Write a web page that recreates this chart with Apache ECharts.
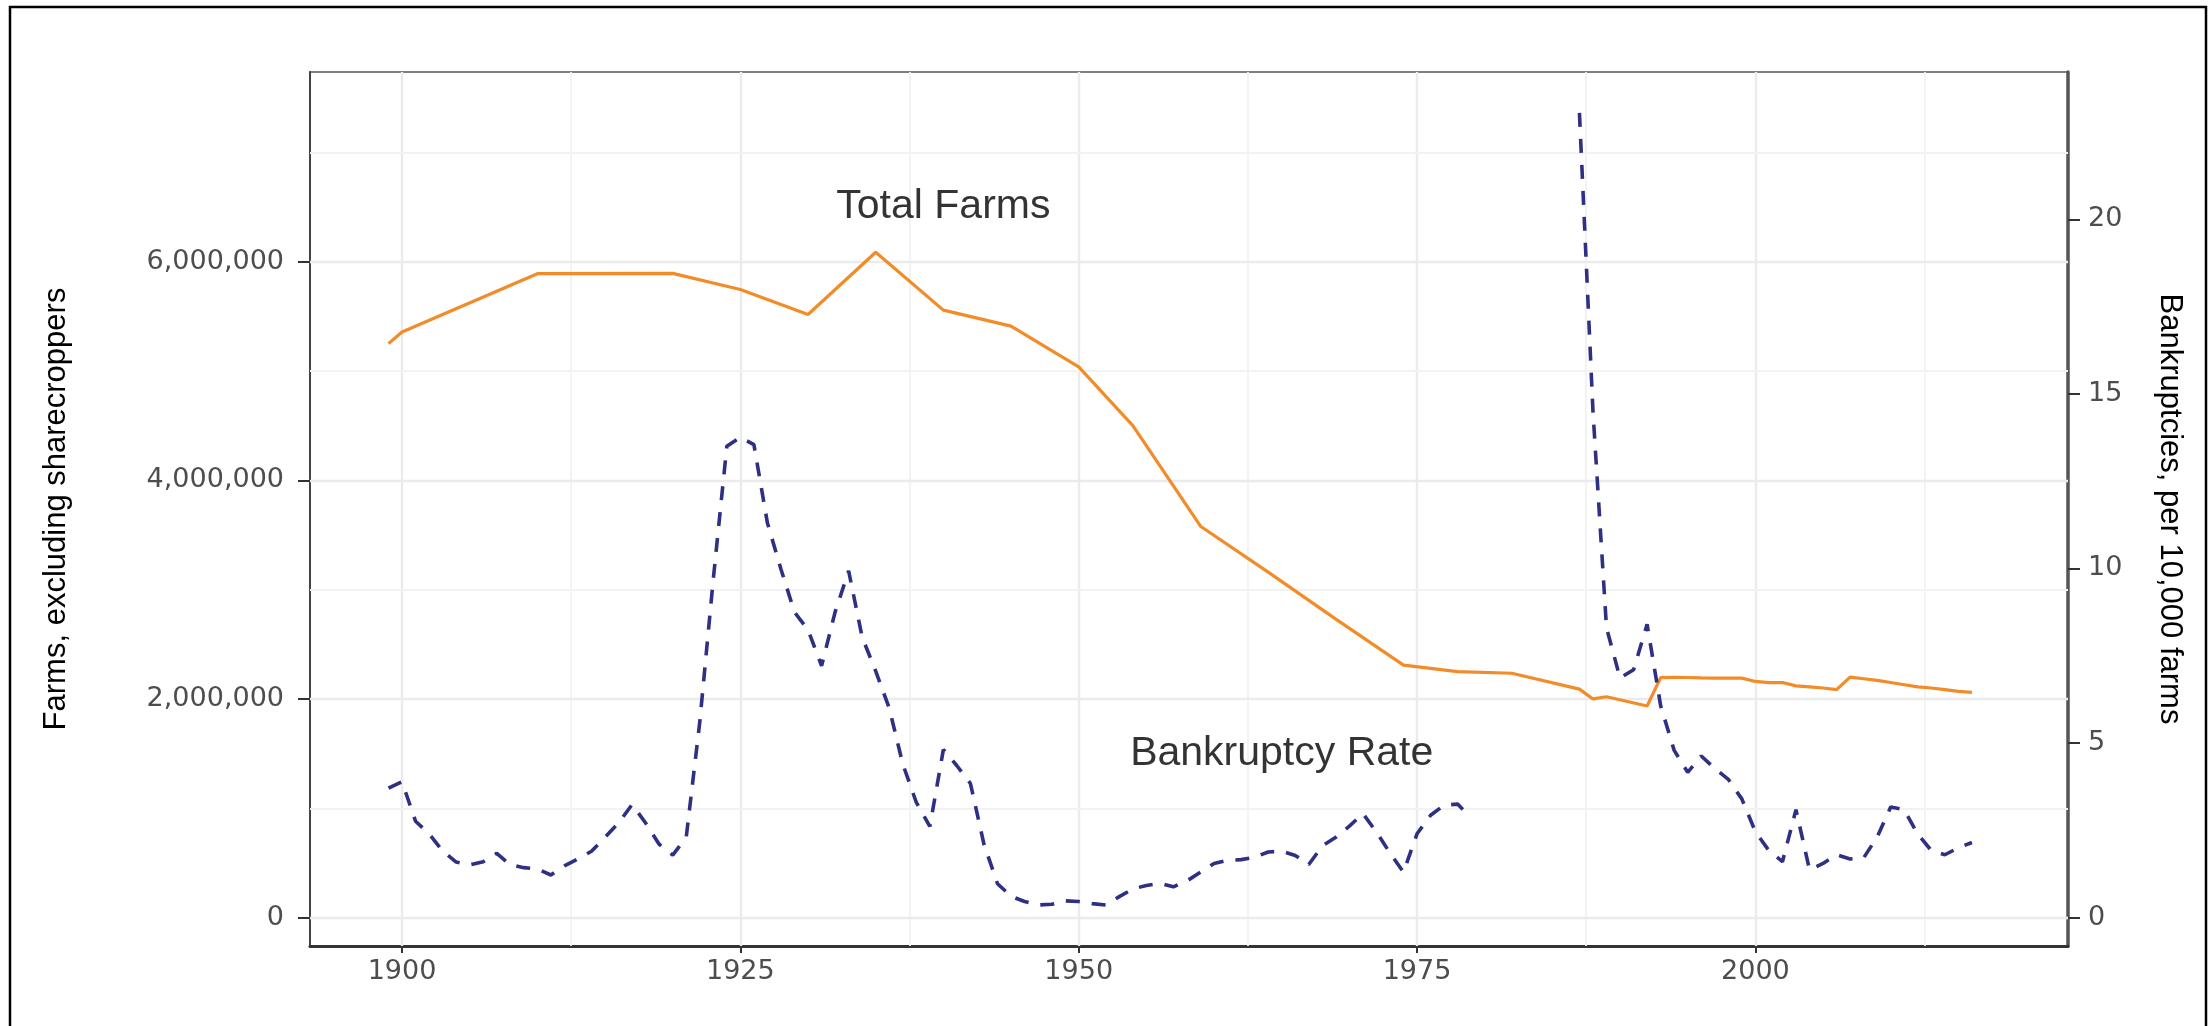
<!DOCTYPE html>
<html>
<head>
<meta charset="utf-8">
<script src="https://cdn.jsdelivr.net/npm/echarts@6/dist/echarts.min.js"></script>
<style>
  html, body { margin: 0; padding: 0; background: #fff; }
  #chart { width: 2211px; height: 1026px; }
</style>
</head>
<body>
<div id="chart"></div>
<script>
// ---- Data ----
const farmYears = [1899, 1900, 1910, 1920, 1925, 1930, 1935, 1940, 1945, 1950, 1954, 1959, 1964, 1969, 1974, 1978, 1982, 1987, 1988, 1989, 1992, 1993, 1994, 1995, 1996, 1997, 1998, 1999, 2000, 2001, 2002, 2003, 2004, 2005, 2006, 2007, 2008, 2009, 2010, 2011, 2012, 2013, 2014, 2015, 2016];
const farmValues = [5250000, 5357000, 5890000, 5893000, 5746000, 5517000, 6086000, 5557000, 5410000, 5037000, 4500000, 3580000, 3160000, 2730000, 2310000, 2250000, 2235000, 2090000, 2000000, 2020000, 1935000, 2195000, 2198000, 2196000, 2192000, 2190000, 2190000, 2190000, 2160000, 2150000, 2150000, 2120000, 2110000, 2100000, 2085000, 2200000, 2185000, 2170000, 2150000, 2130000, 2110000, 2100000, 2085000, 2070000, 2060000];

const bankYears = [1899, 1900, 1901, 1902, 1903, 1904, 1905, 1906, 1907, 1908, 1909, 1910, 1911, 1912, 1913, 1914, 1915, 1916, 1917, 1918, 1919, 1920, 1921, 1922, 1923, 1924, 1925, 1926, 1927, 1928, 1929, 1930, 1931, 1932, 1933, 1934, 1935, 1936, 1937, 1938, 1939, 1940, 1941, 1942, 1943, 1944, 1945, 1946, 1947, 1948, 1949, 1950, 1951, 1952, 1953, 1954, 1955, 1956, 1957, 1958, 1959, 1960, 1961, 1962, 1963, 1964, 1965, 1966, 1967, 1968, 1969, 1970, 1971, 1972, 1973, 1974, 1975, 1976, 1977, 1978, 1979, 1980, 1981, 1982, 1983, 1984, 1985, 1986, 1987, 1988, 1989, 1990, 1991, 1992, 1993, 1994, 1995, 1996, 1997, 1998, 1999, 2000, 2001, 2002, 2003, 2004, 2005, 2006, 2007, 2008, 2009, 2010, 2011, 2012, 2013, 2014, 2015, 2016];
const bankValues = [3.71, 3.89, 2.76, 2.40, 1.91, 1.59, 1.51, 1.60, 1.84, 1.51, 1.43, 1.39, 1.22, 1.48, 1.68, 1.90, 2.30, 2.71, 3.24, 2.71, 2.10, 1.79, 2.30, 5.60, 9.70, 13.50, 13.76, 13.55, 11.30, 9.98, 8.75, 8.24, 7.21, 8.75, 9.93, 8.03, 7.06, 6.00, 4.40, 3.30, 2.61, 4.81, 4.35, 3.84, 2.10, 0.97, 0.61, 0.46, 0.36, 0.38, 0.48, 0.46, 0.40, 0.36, 0.60, 0.82, 0.92, 0.98, 0.88, 1.05, 1.30, 1.55, 1.64, 1.66, 1.73, 1.88, 1.90, 1.78, 1.52, 2.05, 2.30, 2.62, 2.98, 2.45, 1.85, 1.30, 2.40, 2.93, 3.22, 3.25, 2.85, null, null, null, null, null, null, null, 23.05, 14.50, 8.30, 6.86, 7.10, 8.40, 6.07, 4.79, 4.16, 4.63, 4.27, 3.96, 3.40, 2.46, 1.92, 1.60, 3.09, 1.37, 1.55, 1.80, 1.68, 1.71, 2.31, 3.17, 3.09, 2.39, 1.92, 1.80, 2.00, 2.15];

const xTicks = [1900, 1925, 1950, 1975, 2000];
const xMinorGrid = [1912.5, 1937.5, 1962.5, 1987.5, 2012.5];
const leftTicks = [0, 2000000, 4000000, 6000000];
const leftMinorGrid = [1000000, 3000000, 5000000, 7000000];
const rightTicks = [0, 5, 10, 15, 20];

const annoX = [1940, 1965];
const annoY = [6500000, 1500000];
const annoText = ['Total Farms', 'Bankruptcy Rate'];

// ---- Scales (ggplot-like expanded ranges) ----
const xMin = 1893.2, xMax = 2023.1;
const leftMin = -260000, leftMax = 7735000;
const secFactor = 319340; // farms per unit of bankruptcy rate
const rightMin = leftMin / secFactor, rightMax = leftMax / secFactor;

const chart = echarts.init(document.getElementById('chart'));

const major = { color: '#EBEBEB', width: 2.4, type: 'solid' };
const minor = { color: '#F2F2F2', width: 1.8, type: 'solid' };
const gridLines = [];
xTicks.forEach(v => gridLines.push({ xAxis: v, lineStyle: major }));
xMinorGrid.forEach(v => gridLines.push({ xAxis: v, lineStyle: minor }));
leftTicks.forEach(v => gridLines.push({ yAxis: v, lineStyle: major }));
leftMinorGrid.forEach(v => gridLines.push({ yAxis: v, lineStyle: minor }));

const tickFont = { fontFamily: 'DejaVu Sans', fontSize: 27, color: '#4D4D4D' };
const titleFont = { fontFamily: 'Liberation Sans', fontSize: 31, color: '#000000' };

chart.setOption({
  animation: false,
  backgroundColor: '#ffffff',
  graphic: [{
    type: 'rect',
    shape: { x: 10, y: 7, width: 2196, height: 1040 },
    style: { fill: 'none', stroke: '#000000', lineWidth: 2.5 },
    silent: true
  }],
  grid: {
    left: 310, right: 143, top: 72, bottom: 80,
    show: true, borderColor: '#555555', borderWidth: 1.5, backgroundColor: '#ffffff'
  },
  xAxis: {
    type: 'value', min: xMin, max: xMax,
    axisLine: { show: true, onZero: false, lineStyle: { color: '#333333', width: 3 } },
    axisTick: { show: true, length: 7, customValues: xTicks, lineStyle: { color: '#333333', width: 2 } },
    axisLabel: { customValues: xTicks, margin: 12, ...tickFont, formatter: v => String(v) },
    splitLine: { show: false }
  },
  yAxis: [{
    type: 'value', min: leftMin, max: leftMax, position: 'left',
    name: 'Farms, excluding sharecroppers', nameLocation: 'middle', nameGap: 238,
    nameTextStyle: titleFont,
    axisLine: { show: true, onZero: false, lineStyle: { color: '#444444', width: 2 } },
    axisTick: { show: true, length: 12, customValues: leftTicks, lineStyle: { color: '#333333', width: 2 } },
    axisLabel: { customValues: leftTicks, margin: 26, ...tickFont, formatter: v => Math.round(v).toLocaleString('en-US') },
    splitLine: { show: false }
  }, {
    type: 'value', min: rightMin, max: rightMax, position: 'right',
    name: 'Bankruptcies, per 10,000 farms', nameLocation: 'middle', nameGap: 86, nameRotate: -90,
    nameTextStyle: titleFont,
    axisLine: { show: true, onZero: false, lineStyle: { color: '#555555', width: 3.5 } },
    axisTick: { show: true, length: 12, customValues: rightTicks, lineStyle: { color: '#333333', width: 2 } },
    axisLabel: { customValues: rightTicks, margin: 20, ...tickFont, formatter: v => String(Math.round(v)) },
    splitLine: { show: false }
  }],
  series: [{
    name: 'Total Farms', type: 'line', yAxisIndex: 0, z: 3,
    data: farmYears.map((y, i) => [y, farmValues[i]]),
    symbol: 'none', lineStyle: { color: '#F28C28', width: 3.2 },
    markLine: {
      z: 1, silent: true, symbol: ['none', 'none'], label: { show: false },
      emphasis: { disabled: true },
      data: gridLines
    }
  }, {
    name: 'Bankruptcy Rate', type: 'line', yAxisIndex: 1, z: 3,
    data: bankYears.map((y, i) => [y, bankValues[i]]),
    connectNulls: false,
    symbol: 'none', lineStyle: { color: '#2E3083', width: 3.6, type: [14, 12] }
  }, {
    name: 'annotations', type: 'scatter', yAxisIndex: 0, z: 4,
    symbolSize: 0, silent: true,
    data: annoX.map((x, i) => ({ value: [x, annoY[i]], name: annoText[i] })),
    label: {
      show: true, position: 'inside', formatter: p => p.name,
      fontFamily: 'Liberation Sans', fontSize: 41, color: '#000000'
    }
  }]
});
</script>
</body>
</html>
